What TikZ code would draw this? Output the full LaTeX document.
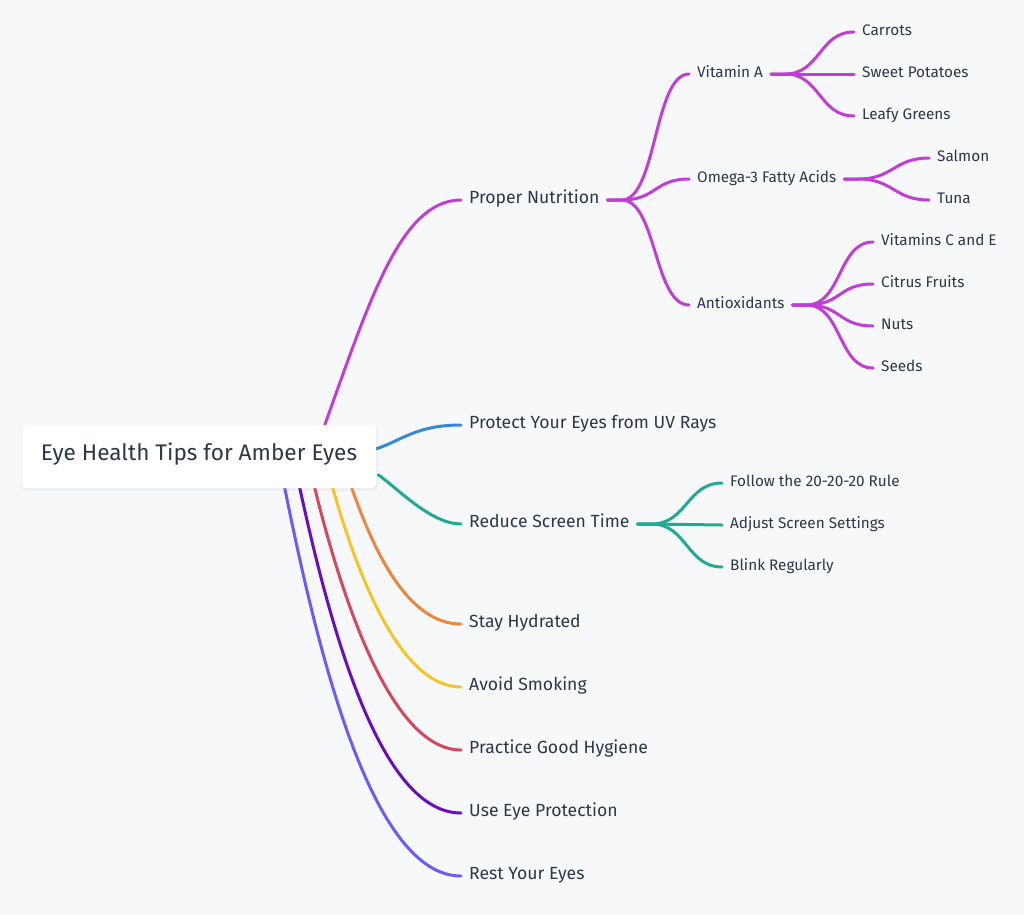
\documentclass[tikz,border=0pt]{standalone}
\usepackage{fontspec}
\setmainfont{Fira Sans}
\usetikzlibrary{calc}
\pgfdeclarelayer{back}
\pgfdeclarelayer{bg}
\pgfsetlayers{back,bg,main}
\definecolor{bgc}{RGB}{247,248,250}
\definecolor{ink}{RGB}{45,55,72}
\definecolor{cmag}{RGB}{192,62,212}
\definecolor{cblue}{RGB}{53,137,220}
\definecolor{cteal}{RGB}{32,170,150}
\definecolor{corange}{RGB}{234,135,60}
\definecolor{cyellow}{RGB}{247,196,40}
\definecolor{cred}{RGB}{212,72,92}
\definecolor{cpurple}{RGB}{104,14,190}
\definecolor{cviolet}{RGB}{108,92,245}
\begin{document}
\begin{tikzpicture}[x=1pt,y=-1pt,
  lone/.style={anchor=west, inner xsep=8pt, inner ysep=0pt, text height=0.75em, text depth=0pt, text=ink, font=\fontsize{17.6}{20}\selectfont},
  ltwo/.style={lone, font=\fontsize{15.3}{18}\selectfont},
  rootbox/.style={fill=white, rounded corners=4pt, minimum width=354pt, minimum height=63pt, inner sep=0pt, text height=0.76em, text depth=0pt, text=ink, font=\fontsize{22.6}{26}\selectfont},
  edge/.style={line width=3pt, line cap=round},
  branch/.style={edge, to path={-- ++(14,0) .. controls +(35,0) and +(-35,0) .. (\tikztotarget)}}]
\begin{pgfonlayer}{back}
\fill[bgc] (0,0) rectangle (1024,914);
\fill[black, opacity=0.04, rounded corners=5pt] (21,425) rectangle (378,491);
\end{pgfonlayer}
\useasboundingbox (0,0) rectangle (1024,914);
\node[rootbox] (root) at (199,456.5) {Eye Health Tips for Amber Eyes};
% level 1
\node[lone] (pn) at (461,200) {Proper Nutrition};
\node[lone] (uv) at (461,425) {Protect Your Eyes from UV Rays};
\node[lone] (rs) at (461,524) {Reduce Screen Time};
\node[lone] (sh) at (461,624) {Stay Hydrated};
\node[lone] (as) at (461,687) {Avoid Smoking};
\node[lone] (gh) at (461,750) {Practice Good Hygiene};
\node[lone] (ep) at (461,813) {Use Eye Protection};
\node[lone] (re) at (461,876) {Rest Your Eyes};
% level 2
\node[ltwo] (va) at (689,74) {Vitamin A};
\node[ltwo] (om) at (689,179) {Omega-3 Fatty Acids};
\node[ltwo] (ao) at (689,305) {Antioxidants};
\node[ltwo] (ca) at (854,32) {Carrots};
\node[ltwo] (sp) at (854,74) {Sweet Potatoes};
\node[ltwo] (lg) at (854,116) {Leafy Greens};
\node[ltwo] (sa) at (929,158) {Salmon};
\node[ltwo] (tu) at (929,200) {Tuna};
\node[ltwo] (vc) at (873,242) {Vitamins C and E};
\node[ltwo] (cf) at (873,284) {Citrus Fruits};
\node[ltwo] (nu) at (873,326) {Nuts};
\node[ltwo] (se) at (873,368) {Seeds};
\node[ltwo] (fr) at (722,483) {Follow the 20-20-20 Rule};
\node[ltwo] (ad) at (722,525) {Adjust Screen Settings};
\node[ltwo] (bl) at (722,567) {Blink Regularly};
\begin{pgfonlayer}{bg}
\draw[edge,cmag] ($(root.north west)+(303,0)$) .. controls +(45,-125) and +(-60,0) .. (pn.west);
\draw[edge,cblue] ($(root.north east)+(0,24)$) .. controls +(25,-8) and +(-45,0) .. (uv.west);
\draw[edge,cteal] ($(root.north east)+(2,50)$) .. controls +(20,14) and +(-30,0) .. (rs.west);
\draw[edge,corange] ($(root.south west)+(330,0)$) .. controls +(21.6,61.2) and +(-54,0) .. (sh.west);
\draw[edge,cyellow] ($(root.south west)+(311,0)$) .. controls +(25.4,89.6) and +(-60,0) .. (as.west);
\draw[edge,cred] ($(root.south west)+(293,0)$) .. controls +(29,117.9) and +(-68,0) .. (gh.west);
\draw[edge,cpurple] ($(root.south west)+(278,0)$) .. controls +(32,146.3) and +(-80,0) .. (ep.west);
\draw[edge,cviolet] ($(root.south west)+(263,0)$) .. controls +(35,174.6) and +(-87.5,0) .. (re.west);
\end{pgfonlayer}
\foreach \c in {va,om,ao} \draw[branch,cmag] (pn.east) to (\c.west);
\foreach \c in {ca,sp,lg} \draw[branch,cmag] (va.east) to (\c.west);
\foreach \c in {sa,tu} \draw[branch,cmag] (om.east) to (\c.west);
\foreach \c in {vc,cf,nu,se} \draw[branch,cmag] (ao.east) to (\c.west);
\foreach \c in {fr,ad,bl} \draw[branch,cteal] (rs.east) to (\c.west);
\end{tikzpicture}
\end{document}
